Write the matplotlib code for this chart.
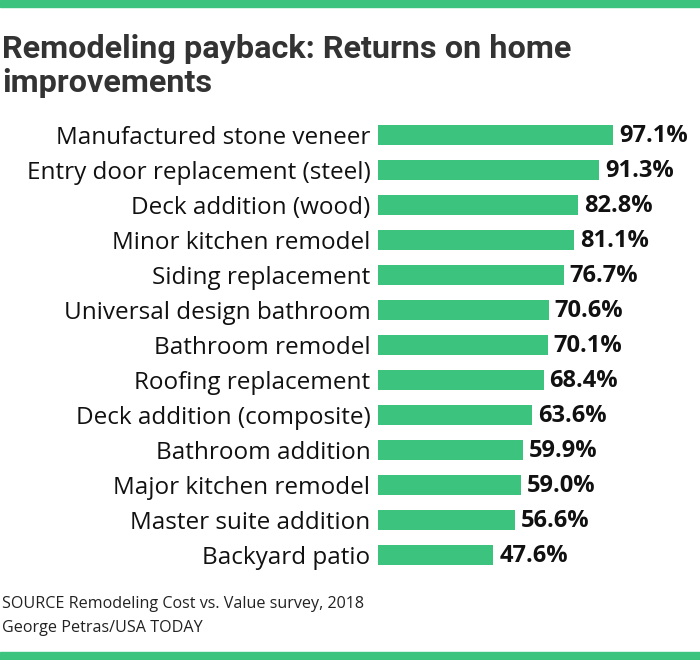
import matplotlib
matplotlib.use("Agg")
import matplotlib.pyplot as plt
from matplotlib.patches import Rectangle

# data
items = ["Manufactured stone veneer", "Entry door replacement (steel)",
         "Deck addition (wood)", "Minor kitchen remodel", "Siding replacement",
         "Universal design bathroom", "Bathroom remodel", "Roofing replacement",
         "Deck addition (composite)", "Bathroom addition", "Major kitchen remodel",
         "Master suite addition", "Backyard patio"]
returns = [97.1, 91.3, 82.8, 81.1, 76.7, 70.6, 70.1, 68.4, 63.6, 59.9, 59.0, 56.6, 47.6]

title_lines = ["Remodeling payback: Returns on home", "improvements"]
source = "SOURCE Remodeling Cost vs. Value survey, 2018"
credit = "George Petras/USA TODAY"

GREEN = "#3cc47e"
W, H = 700, 660

fig = plt.figure(figsize=(W / 100, H / 100), dpi=100)
fig.patch.set_facecolor("white")

# green stripes top and bottom
fig.patches.append(Rectangle((0, 1 - 7 / H), 1, 7 / H, transform=fig.transFigure,
                             color=GREEN, zorder=0))
fig.patches.append(Rectangle((0, 0), 1, 8 / H, transform=fig.transFigure,
                             color=GREEN, zorder=0))

# axes: x=0 at 378px, 100% = 242px; rows 35px apart starting at 135px
top_px, bot_px = 117.5, 572.5
ax = fig.add_axes([378 / W, (H - bot_px) / H, 242 / W, (bot_px - top_px) / H])
y = list(range(len(items)))
ax.barh(y, returns, height=0.57, color=GREEN)
ax.set_xlim(0, 100)
ax.set_ylim(len(items) - 0.5, -0.5)
ax.set_yticks(y)
ax.set_yticklabels(items, fontsize=17.5, family="Open Sans", color="#111111")
ax.tick_params(axis="y", length=0, pad=5.5)
ax.set_xticks([])
for s in ax.spines.values():
    s.set_visible(False)

for i, v in enumerate(returns):
    ax.annotate(f"{v:.1f}%", (v, i), xytext=(4.3, -1), textcoords="offset points",
                ha="left", va="center", fontsize=17, fontweight="bold",
                family="Open Sans", color="#111111")

for k, line in enumerate(title_lines):
    fig.text(2 / W, 1 - (58 + 34 * k) / H, line, fontsize=23.3, fontweight="bold",
             family="Roboto", color="#333333", va="baseline", ha="left")
fig.text(2 / W, 1 - 608 / H, source, fontsize=11.6, family="Open Sans",
         color="#222222", va="baseline")
fig.text(2 / W, 1 - 632 / H, credit, fontsize=11.6, family="Open Sans",
         color="#222222", va="baseline")

fig.savefig("out.png", dpi=100, facecolor="white")
